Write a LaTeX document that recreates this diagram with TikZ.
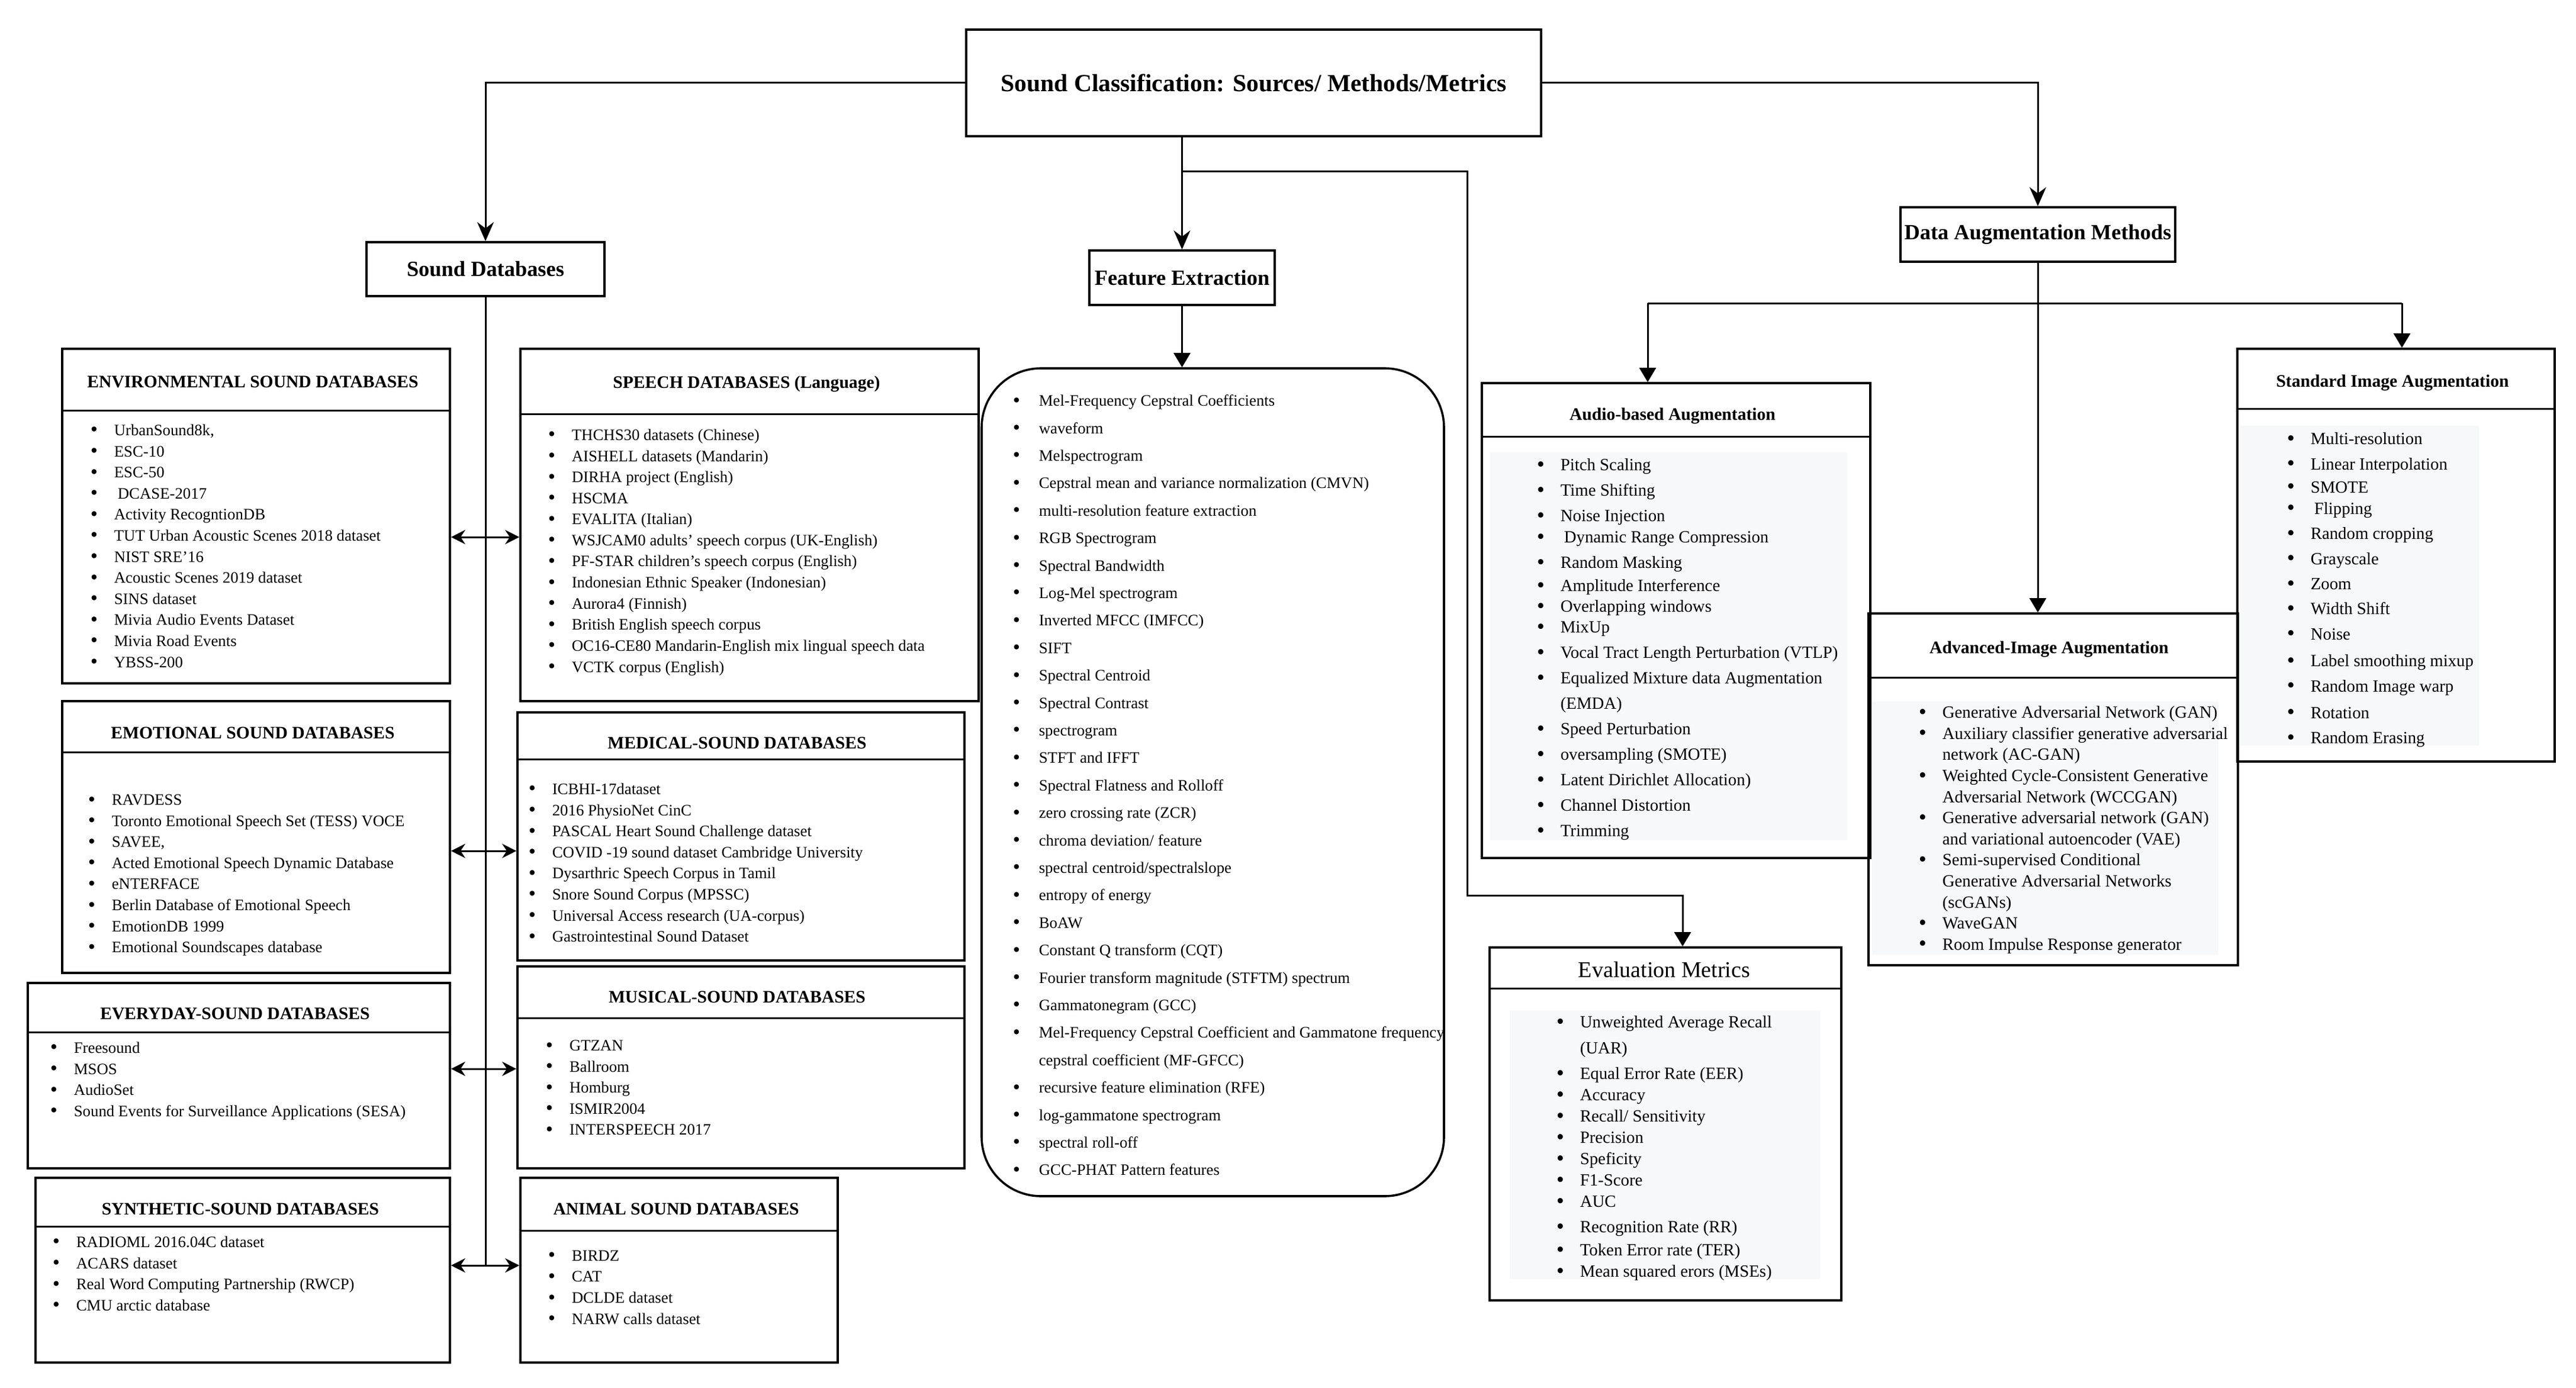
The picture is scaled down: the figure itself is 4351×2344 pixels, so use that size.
\documentclass[tikz,border=0pt]{standalone}
\usepackage{fontspec}
\setmainfont{Liberation Serif}
\usetikzlibrary{arrows.meta,fit}
\definecolor{listbg}{HTML}{F7F8F9}
\newcommand{\itm}[1]{\makebox[10pt][l]{\raisebox{-0.12ex}{\scalebox{1.3}{\textbullet}}}#1}
\newcommand{\fitm}[1]{\makebox[11pt][l]{\raisebox{-0.12ex}{\scalebox{1.3}{\textbullet}}}#1}
\newcommand{\cnt}[1]{\hspace*{10pt}#1}
\begin{document}
\begin{tikzpicture}[x=0.25pt,y=0.25pt,yscale=-1,
    panel/.style={draw, line width=0.9pt, inner sep=0pt},
    toptext/.style={inner sep=0pt, font=\fontsize{9.1}{11}\selectfont\bfseries},
    hdr/.style={inner sep=0pt, font=\fontsize{7.4}{9}\selectfont\bfseries},
    dblist/.style={anchor=north west, inner sep=0pt, align=left, font=\fontsize{6.7}{8.9}\selectfont},
    auglist/.style={anchor=north west, inner sep=0pt, align=left, font=\fontsize{7.2}{8.9}\selectfont},
    wire/.style={line width=0.75pt},
    conn/.style={line width=0.75pt, -{Stealth[length=8pt,width=7pt]}},
    subconn/.style={line width=0.75pt, -{Triangle[length=6pt,width=7pt]}},
    dbl/.style={line width=0.75pt, {Stealth[length=6pt,width=6pt]}-{Stealth[length=6pt,width=6pt]}}
  ]
  \useasboundingbox (0,0) rectangle (4351,2344);

  % Top boxes
  \node[panel, fit={(1632,50) (2603,230)}] (title) {};
  \node[toptext, font=\fontsize{10.4}{12}\selectfont\bfseries] (titlet) at (title.center) {Sound Classification: Sources/ Methods/Metrics};
  \node[panel, fit={(619,409) (1021,500)}] (sdb) {};
  \node[toptext] (sdbt) at (sdb.center) {Sound Databases};
  \node[panel, fit={(1840,423) (2153,515)}] (fe) {};
  \node[toptext] (fet) at (fe.center) {Feature Extraction};
  \node[panel, fit={(3210,350) (3674,442)}] (dam) {};
  \node[toptext] (damt) at (dam.center) {Data Augmentation Methods};

  % Environmental panel
  \node[panel, fit={(105,589) (760,1154)}] (env) {};
  \draw[wire] (env.west |- 0,693) -- (env.east |- 0,693);
  \node[hdr] (envh) at (427,645) {ENVIRONMENTAL SOUND DATABASES};
  \node[dblist] (envl) at (152,716) {\itm{UrbanSound8k,}\\ \itm{ESC-10}\\ \itm{ESC-50}\\ \itm{\hspace{1.5pt}DCASE-2017}\\
    \itm{Activity RecogntionDB}\\ \itm{TUT Urban Acoustic Scenes 2018 dataset}\\ \itm{NIST SRE’16}\\
    \itm{Acoustic Scenes 2019 dataset}\\ \itm{SINS dataset}\\ \itm{Mivia Audio Events Dataset}\\
    \itm{Mivia Road Events}\\ \itm{YBSS-200}};

  % Speech panel
  \node[panel, fit={(879,589) (1653,1184)}] (spe) {};
  \draw[wire] (spe.west |- 0,699) -- (spe.east |- 0,699);
  \node[hdr] (speh) at (1261,648) {SPEECH DATABASES (Language)};
  \node[dblist] (spel) at (925,724) {\itm{THCHS30 datasets (Chinese)}\\ \itm{AISHELL datasets (Mandarin)}\\
    \itm{DIRHA project (English)}\\ \itm{HSCMA}\\ \itm{EVALITA (Italian)}\\
    \itm{WSJCAM0 adults’ speech corpus (UK-English)}\\ \itm{PF-STAR children’s speech corpus (English)}\\
    \itm{Indonesian Ethnic Speaker (Indonesian)}\\ \itm{Aurora4 (Finnish)}\\ \itm{British English speech corpus}\\
    \itm{OC16-CE80 Mandarin-English mix lingual speech data}\\ \itm{VCTK corpus (English)}};

  % Emotional panel
  \node[panel, fit={(105,1184) (760,1643)}] (emo) {};
  \draw[wire] (emo.west |- 0,1270) -- (emo.east |- 0,1270);
  \node[hdr] (emoh) at (427,1238) {EMOTIONAL SOUND DATABASES};
  \node[dblist] (emol) at (148,1341) {\itm{RAVDESS}\\ \itm{Toronto Emotional Speech Set (TESS) VOCE}\\ \itm{SAVEE,}\\
    \itm{Acted Emotional Speech Dynamic Database}\\ \itm{eNTERFACE}\\ \itm{Berlin Database of Emotional Speech}\\
    \itm{EmotionDB 1999}\\ \itm{Emotional Soundscapes database}};

  % Medical panel
  \node[panel, fit={(874,1203) (1629,1622)}] (med) {};
  \draw[wire] (med.west |- 0,1282) -- (med.east |- 0,1282);
  \node[hdr] (medh) at (1245,1255) {MEDICAL-SOUND DATABASES};
  \node[dblist] (medl) at (892,1322) {\itm{ICBHI-17dataset}\\ \itm{2016 PhysioNet CinC}\\
    \itm{PASCAL Heart Sound Challenge dataset}\\ \itm{COVID -19 sound dataset Cambridge University}\\
    \itm{Dysarthric Speech Corpus in Tamil}\\ \itm{Snore Sound Corpus (MPSSC)}\\
    \itm{Universal Access research (UA-corpus)}\\ \itm{Gastrointestinal Sound Dataset}};

  % Everyday panel
  \node[panel, fit={(47,1660) (760,1973)}] (evd) {};
  \draw[wire] (evd.west |- 0,1743) -- (evd.east |- 0,1743);
  \node[hdr] (evdh) at (397,1712) {EVERYDAY-SOUND DATABASES};
  \node[dblist] (evdl) at (84,1759) {\itm{Freesound}\\ \itm{MSOS}\\ \itm{AudioSet}\\
    \itm{Sound Events for Surveillance Applications (SESA)}};

  % Musical panel
  \node[panel, fit={(874,1632) (1629,1973)}] (mus) {};
  \draw[wire] (mus.west |- 0,1719) -- (mus.east |- 0,1719);
  \node[hdr] (mush) at (1245,1684) {MUSICAL-SOUND DATABASES};
  \node[dblist] (musl) at (921,1756) {\itm{GTZAN}\\ \itm{Ballroom}\\ \itm{Homburg}\\ \itm{ISMIR2004}\\ \itm{INTERSPEECH 2017}};

  % Synthetic panel
  \node[panel, fit={(60,1989) (760,2301)}] (syn) {};
  \draw[wire] (syn.west |- 0,2071) -- (syn.east |- 0,2071);
  \node[hdr] (synh) at (406,2042) {SYNTHETIC-SOUND DATABASES};
  \node[dblist] (synl) at (88,2087) {\itm{RADIOML 2016.04C dataset}\\ \itm{ACARS dataset}\\
    \itm{Real Word Computing Partnership (RWCP)}\\ \itm{CMU arctic database}};

  % Animal panel
  \node[panel, fit={(879,1989) (1415,2301)}] (ani) {};
  \draw[wire] (ani.west |- 0,2078) -- (ani.east |- 0,2078);
  \node[hdr] (anih) at (1142,2042) {ANIMAL SOUND DATABASES};
  \node[dblist] (anil) at (925,2111) {\itm{BIRDZ}\\ \itm{CAT}\\ \itm{DCLDE dataset}\\ \itm{NARW calls dataset}};

  % Feature list
  \node[panel, rounded corners=25pt, fit={(1658,622) (2439,2020)}] (fel) {};
  \node[dblist, font=\fontsize{6.7}{11.6}\selectfont] (fell) at (1710,666) {\fitm{Mel-Frequency Cepstral Coefficients}\\
    \fitm{waveform}\\ \fitm{Melspectrogram}\\ \fitm{Cepstral mean and variance normalization (CMVN)}\\
    \fitm{multi-resolution feature extraction}\\ \fitm{RGB Spectrogram}\\ \fitm{Spectral Bandwidth}\\
    \fitm{Log-Mel spectrogram}\\ \fitm{Inverted MFCC (IMFCC)}\\ \fitm{SIFT}\\ \fitm{Spectral Centroid}\\
    \fitm{Spectral Contrast}\\ \fitm{spectrogram}\\ \fitm{STFT and IFFT}\\ \fitm{Spectral Flatness and Rolloff}\\
    \fitm{zero crossing rate (ZCR)}\\ \fitm{chroma deviation/ feature}\\ \fitm{spectral centroid/spectralslope}\\
    \fitm{entropy of energy}\\ \fitm{BoAW}\\ \fitm{Constant Q transform (CQT)}\\
    \fitm{Fourier transform magnitude (STFTM) spectrum}\\ \fitm{Gammatonegram (GCC)}\\
    \fitm{Mel-Frequency Cepstral Coefficient and Gammatone frequency}\\ \hspace*{11pt}cepstral coefficient (MF-GFCC)\\
    \fitm{recursive feature elimination (RFE)}\\ \fitm{log-gammatone spectrogram}\\ \fitm{spectral roll-off}\\
    \fitm{GCC-PHAT Pattern features}};

  % Audio-based panel
  \node[panel, fit={(2503,647) (3159,1449)}] (aud) {};
  \draw[wire] (aud.west |- 0,737) -- (aud.east |- 0,737);
  \fill[listbg] (2517,764) rectangle (3120,1419);
  \node[hdr] (audh) at (2825,702) {Audio-based Augmentation};
  \node[auglist, font=\fontsize{7.2}{10.75}\selectfont] (audl) at (2595,774) {\itm{Pitch Scaling}\\ \itm{Time Shifting}\\
    \itm{Noise Injection}\\[-1.75pt] \itm{\hspace{1.5pt}Dynamic Range Compression}\\ \itm{Random Masking}\\[-1pt]
    \itm{Amplitude Interference}\\[-2pt] \itm{Overlapping windows}\\[-2pt] \itm{MixUp}\\
    \itm{Vocal Tract Length Perturbation (VTLP)}\\ \itm{Equalized Mixture data Augmentation}\\ \cnt{(EMDA)}\\
    \itm{Speed Perturbation}\\ \itm{oversampling (SMOTE)}\\ \itm{Latent Dirichlet Allocation)}\\
    \itm{Channel Distortion}\\ \itm{Trimming}};

  % Advanced-image panel
  \node[panel, fit={(3156,1036) (3780,1630)}] (adv) {};
  \draw[wire] (adv.west |- 0,1144) -- (adv.east |- 0,1144);
  \fill[listbg] (3162,1185) rectangle (3747,1612);
  \node[hdr] (advh) at (3461,1096) {Advanced-Image Augmentation};
  \node[auglist] (advl) at (3240,1192) {\itm{Generative Adversarial Network (GAN)}\\
    \itm{Auxiliary classifier generative adversarial}\\ \cnt{network (AC-GAN)}\\
    \itm{Weighted Cycle-Consistent Generative}\\ \cnt{Adversarial Network (WCCGAN)}\\
    \itm{Generative adversarial network (GAN)}\\ \cnt{and variational autoencoder (VAE)}\\
    \itm{Semi-supervised Conditional}\\ \cnt{Generative Adversarial Networks}\\ \cnt{(scGANs)}\\
    \itm{WaveGAN}\\ \itm{Room Impulse Response generator}};

  % Standard-image panel
  \node[panel, fit={(3779,589) (4315,1286)}] (std) {};
  \draw[wire] (std.west |- 0,690) -- (std.east |- 0,690);
  \fill[listbg] (3784,719) rectangle (4187,1259);
  \node[hdr] (stdh) at (4041,646) {Standard Image Augmentation};
  \node[auglist, font=\fontsize{7.2}{10.6}\selectfont] (stdl) at (3862,730) {\itm{Multi-resolution}\\
    \itm{Linear Interpolation}\\[-0.8pt] \itm{SMOTE}\\[-1.6pt] \itm{\hspace{1.5pt}Flipping}\\ \itm{Random cropping}\\
    \itm{Grayscale}\\ \itm{Zoom}\\ \itm{Width Shift}\\ \itm{Noise}\\[0.8pt] \itm{Label smoothing mixup}\\
    \itm{Random Image warp}\\[0.6pt] \itm{Rotation}\\ \itm{Random Erasing}};

  % Evaluation panel
  \node[panel, fit={(2516,1600) (3110,2196)}] (evm) {};
  \draw[wire] (evm.west |- 0,1669) -- (evm.east |- 0,1669);
  \fill[listbg] (2550,1707) rectangle (3074,2160);
  \node[inner sep=0pt, font=\fontsize{9.5}{11}\selectfont] (evmh) at (2811,1637) {Evaluation Metrics};
  \node[auglist, font=\fontsize{7.2}{9}\selectfont] (evml) at (2628,1715) {\itm{Unweighted Average Recall}\\[2pt]
    \cnt{(UAR)}\\[1.75pt] \itm{Equal Error Rate (EER)}\\ \itm{Accuracy}\\ \itm{Recall/ Sensitivity}\\
    \itm{Precision}\\ \itm{Speficity}\\ \itm{F1-Score}\\ \itm{AUC}\\[1.75pt] \itm{Recognition Rate (RR)}\\[0.75pt]
    \itm{Token Error rate (TER)}\\ \itm{Mean squared erors (MSEs)}};

  % Connection
  \draw[conn] (title.west) -| (sdb.north);
  \draw[conn] (title.east) -| (dam.north);
  \draw[conn] (title.south -| fe.north) -- (fe.north);
  \draw[subconn] (fe.south) -- (fe.south |- fel.north);
  % Connection to evaluation
  \coordinate (evk1) at (2478,290);
  \coordinate (evk2) at (2478,1512);
  \draw[subconn] (fe.north |- evk1) -- (evk1) -- (evk2) -| ([xshift=7.25pt]evm.north);
  % Connection of databases
  \coordinate (trunk) at (sdb.south |- 0,2137);
  \draw[wire] (sdb.south) -- (trunk);
  \draw[dbl] (env.east |- 0,907) -- (spe.west |- 0,907);
  \draw[dbl] (emo.east |- 0,1437) -- (med.west |- 0,1437);
  \draw[dbl] (evd.east |- 0,1805) -- (mus.west |- 0,1805);
  \draw[dbl] (syn.east |- trunk) -- (ani.west |- trunk);
  % Connection of augmentation
  \coordinate (barL) at (2783,512);
  \coordinate (barR) at (4057,512);
  \draw[wire] (barL) -- (barR);
  \draw[subconn] (dam.south) -- (dam.south |- adv.north);
  \draw[subconn] (barL) -- (barL |- aud.north);
  \draw[subconn] (barR) -- (barR |- std.north);
\end{tikzpicture}
\end{document}
